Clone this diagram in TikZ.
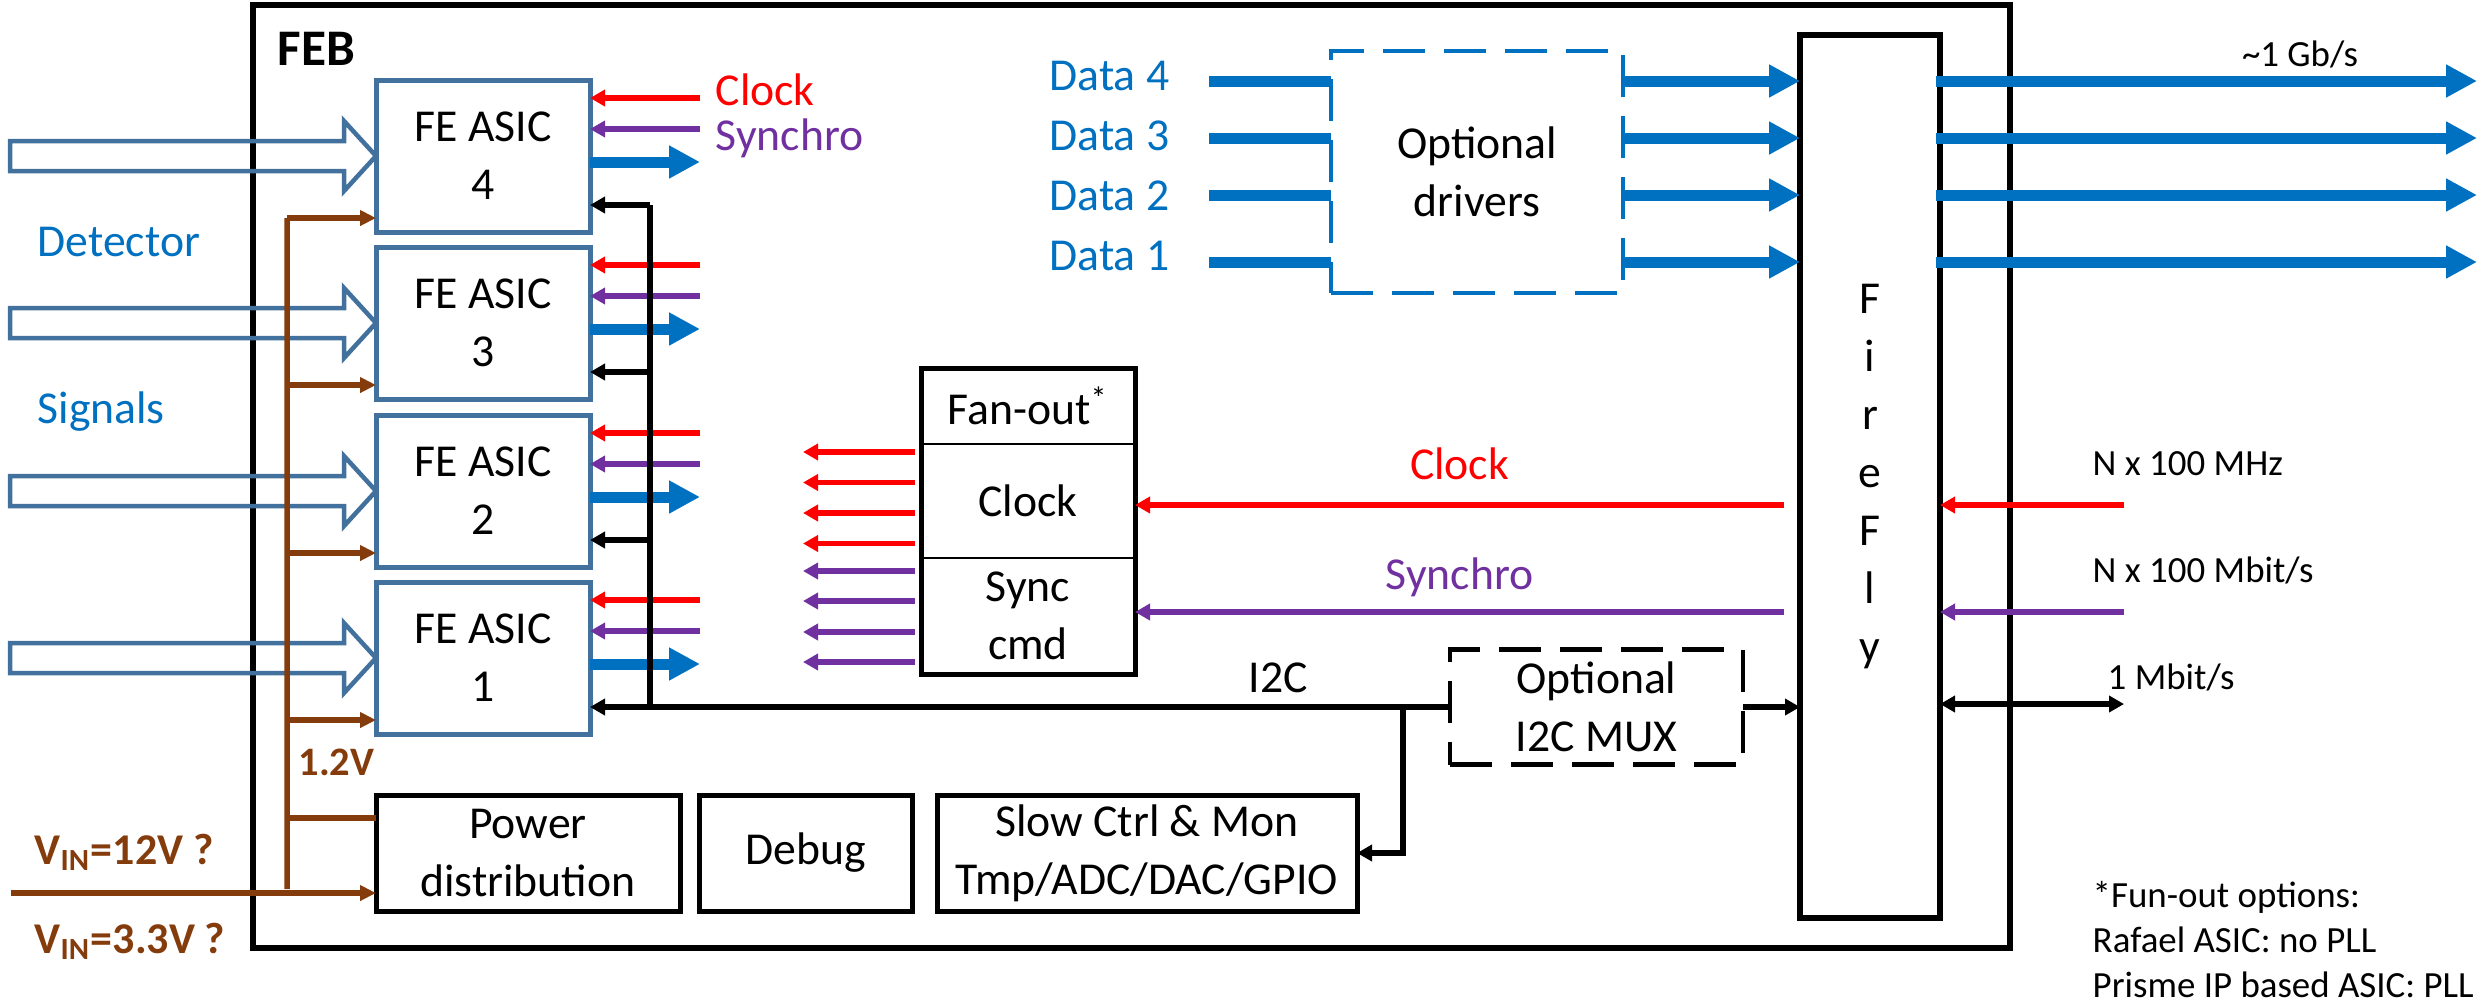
\documentclass[tikz,border=0pt]{standalone}
\usepackage{fontspec}
\setmainfont{Carlito}
\usetikzlibrary{arrows.meta,positioning,calc}

\definecolor{asicblue}{RGB}{65,113,156}
\definecolor{datablue}{RGB}{0,112,192}
\definecolor{clkred}{RGB}{255,0,0}
\definecolor{synpurple}{RGB}{112,48,160}
\definecolor{pwrbrown}{RGB}{132,60,12}

\begin{document}
\begin{tikzpicture}[
  x=0.1mm, y=-0.1mm,
  font=\fontsize{13}{16.5}\selectfont,
  box/.style={draw, line width=0.5mm, align=center, inner sep=0pt, outer sep=0pt},
  asic/.style={box, draw=asicblue, minimum width=21.4mm, minimum height=15.2mm},
  blk/.style={box, minimum height=11.6mm},
  part/.style={draw, line width=0.25mm, align=center, minimum width=21.4mm, inner sep=0pt, outer sep=0pt},
  opt/.style={box, dash pattern=on 4.2mm off 1.9mm, line width=0.45mm},
  lbl/.style={inner sep=0pt},
  small/.style={lbl, font=\fontsize{10.5}{12.7}\selectfont},
  pwrlbl/.style={lbl, text=pwrbrown, font=\fontsize{12.5}{15}\selectfont\bfseries},
  clk/.style={draw=clkred, line width=0.55mm, -{Triangle[length=1.5mm,width=1.6mm]}},
  syn/.style={clk, draw=synpurple},
  ctl/.style={draw=black, line width=0.55mm},
  ctlarr/.style={ctl, -{Triangle[length=1.5mm,width=1.6mm]}},
  ctlboth/.style={ctl, {Triangle[length=1.5mm,width=1.6mm]}-{Triangle[length=1.5mm,width=1.6mm]}},
  pwr/.style={draw=pwrbrown, line width=0.55mm},
  pwrarr/.style={pwr, -{Triangle[length=1.6mm,width=1.5mm]}},
  dline/.style={draw=datablue, line width=1.1mm},
  dout/.style={dline, -{Triangle[length=3.1mm,width=3.1mm]}},
  sig/.style={draw=asicblue, line width=0.45mm, line join=miter}
]
  \useasboundingbox (0,0) rectangle (2484,1003);

  % board frame
  \node[box, line width=0.55mm, minimum width=175.7mm, minimum height=94.3mm] (feb) at (1131.5,476.5) {};
  \node[lbl, font=\fontsize{14.6}{17}\selectfont\bfseries, anchor=base west] (febname) at (277,65) {FEB};

  % front-end ASICs
  \node[asic] (asic4) at (483,156) {FE ASIC\\4};
  \node[asic, below=1.5mm of asic4] (asic3) {FE ASIC\\3};
  \node[asic, below=1.6mm of asic3] (asic2) {FE ASIC\\2};
  \node[asic, below=1.5mm of asic2] (asic1) {FE ASIC\\1};

  \node[lbl, text=datablue, anchor=base west] (det) at (37,256) {Detector};
  \node[lbl, text=datablue, anchor=base west] (sigs) at (37,423) {Signals};
  \node[lbl, text=clkred, anchor=base west] (clkname) at (715,105) {Clock};
  \node[lbl, text=synpurple, anchor=base west] (synname) at (715,150) {Synchro};

  \foreach \n in {1,...,4}{
    \draw[sig] (asic\n.west) -- ++(-32,-35) -- ++(0,20) -- ++(-334,0) -- ++(0,30)
      -- ++(334,0) -- ++(0,20) -- cycle;
    \draw[clk] ([shift={(110,-58)}]asic\n.east) -- ([shift={(0,-58)}]asic\n.east);
    \draw[syn] ([shift={(110,-27)}]asic\n.east) -- ([shift={(0,-27)}]asic\n.east);
    \draw[dout] ([shift={(0,6)}]asic\n.east) -- ([shift={(110,6)}]asic\n.east);
    \draw[pwrarr] ([shift={(-89,62)}]asic\n.west) -- ([shift={(0,62)}]asic\n.west);
  }
  \foreach \n in {2,3,4}
    \draw[ctlarr] ([shift={(60,49)}]asic\n.east) -- ([shift={(0,49)}]asic\n.east);
  \draw[ctl] ([shift={(60,49)}]asic4.east) -- ([shift={(60,49)}]asic1.east);

  % power, debug, slow control
  \node[blk, minimum width=30.4mm] (pwr) at (528,853) {Power\\distribution};
  \node[blk, minimum width=21.3mm, right=1.9mm of pwr] (dbg) {Debug};
  \node[blk, minimum width=42mm, right=2.5mm of dbg] (slow) {Slow Ctrl \& Mon\\Tmp/ADC/DAC/GPIO};

  \coordinate (pbot) at (287,889);
  \coordinate (vin) at (11,893);
  \draw[pwr] ([shift={(-89,62)}]asic4.west) -- (pbot);
  \draw[pwr] ([shift={(-89,-35)}]pwr.west) -- ([shift={(0,-35)}]pwr.west);
  \draw[pwrarr] (vin) -- (vin -| pwr.west);
  \node[pwrlbl, font=\fontsize{11.5}{14}\selectfont\bfseries, anchor=base west] (v12a) at (298,775) {1.2V};
  \node[pwrlbl, anchor=base west] (vin12) at (34,864) {V\textsubscript{IN}=12V ?};
  \node[pwrlbl, anchor=base west] (vin33) at (34,953) {V\textsubscript{IN}=3.3V ?};

  % fan-out
  \node[part, minimum height=7.6mm] (fanhead) at (1028,406) {Fan-out\textsuperscript{*}};
  \node[part, minimum height=11.4mm, below=0mm of fanhead] (fanclk) {Clock};
  \node[part, minimum height=11.6mm, below=0mm of fanclk] (fansync) {Sync\\cmd};
  \draw[line width=0.5mm] (fanhead.north west) rectangle (fansync.south east);
  \foreach \dy in {-49,-18.5,12,42.5}
    \draw[clk] ([shift={(-6,\dy)}]fanclk.west) -- ++(-112,0);
  \foreach \dy in {-45,-15,16,46}
    \draw[syn] ([shift={(-6,\dy)}]fansync.west) -- ++(-112,0);

  % FireFly and data path
  \node[box, line width=0.6mm, minimum width=14mm, minimum height=88.3mm] (ff) at (1870,476.5) {F\\i\\r\\e\\F\\l\\y};
  \node[opt, draw=datablue, minimum width=29.2mm, minimum height=24.2mm] (drv) at (1477,172) {Optional\\drivers};
  \foreach \n/\ly/\bl in {4/81/90,3/138/150,2/195/210,1/262/270}{
    \node[lbl, text=datablue, anchor=base east] (dat\n) at (1170,\bl) {Data \n};
    \coordinate (din\n) at (1209,\ly);
    \coordinate (gb\n) at (2477,\ly);
    \draw[dline] (din\n) -- (din\n -| drv.west);
    \draw[dout] (din\n -| drv.east) -- (din\n -| ff.west);
    \draw[dout] ($(din\n -| ff.east)+(-4,0)$) -- (gb\n);
  }
  \node[small, anchor=base] (gbrate) at (2300,66) {\textasciitilde 1 Gb/s};

  \coordinate (ckff) at (1784,505);
  \coordinate (syff) at (1784,612);
  \draw[clk] (ckff) -- node[lbl, above=2.2mm, text=clkred] (ckline) {Clock} (ckff -| fanclk.east);
  \draw[syn] (syff) -- node[lbl, above=1.2mm, text=synpurple] (syline) {Synchro} (syff -| fansync.east);

  % I2C
  \node[opt, minimum width=29.3mm, minimum height=11.5mm] (mux) at (1596.5,707) {Optional\\I2C MUX};
  \draw[ctlarr] (mux.west) -- node[lbl, pos=0.2, above=1.1mm] (i2c) {I2C} (mux.west -| asic1.east);
  \coordinate (i2cbr) at ($(slow.east |- mux.west)+(46,0)$);
  \draw[ctlarr] (i2cbr) |- (slow.east);
  \draw[ctlarr] (mux.east) -- (mux.east -| ff.west);

  % links to the outside
  \coordinate (ckin) at (2124,505);
  \coordinate (syin) at (2124,612);
  \coordinate (slin) at (2124,704);
  \draw[clk] (ckin) -- (ckin -| ff.east);
  \draw[syn] (syin) -- (syin -| ff.east);
  \draw[ctlboth] (slin -| ff.east) -- (slin);
  \node[small, anchor=base west] (ckrate) at (2092,475) {N x 100 MHz};
  \node[small, anchor=base west] (syrate) at (2092,582) {N x 100 Mbit/s};
  \node[small, anchor=base west] (slrate) at (2107,689) {1 Mbit/s};

  \node[small, align=left, anchor=north west] (note) at (2092,881)
    {*Fun-out options:\\Rafael ASIC: no PLL\\Prisme IP based ASIC: PLL};
\end{tikzpicture}
\end{document}
